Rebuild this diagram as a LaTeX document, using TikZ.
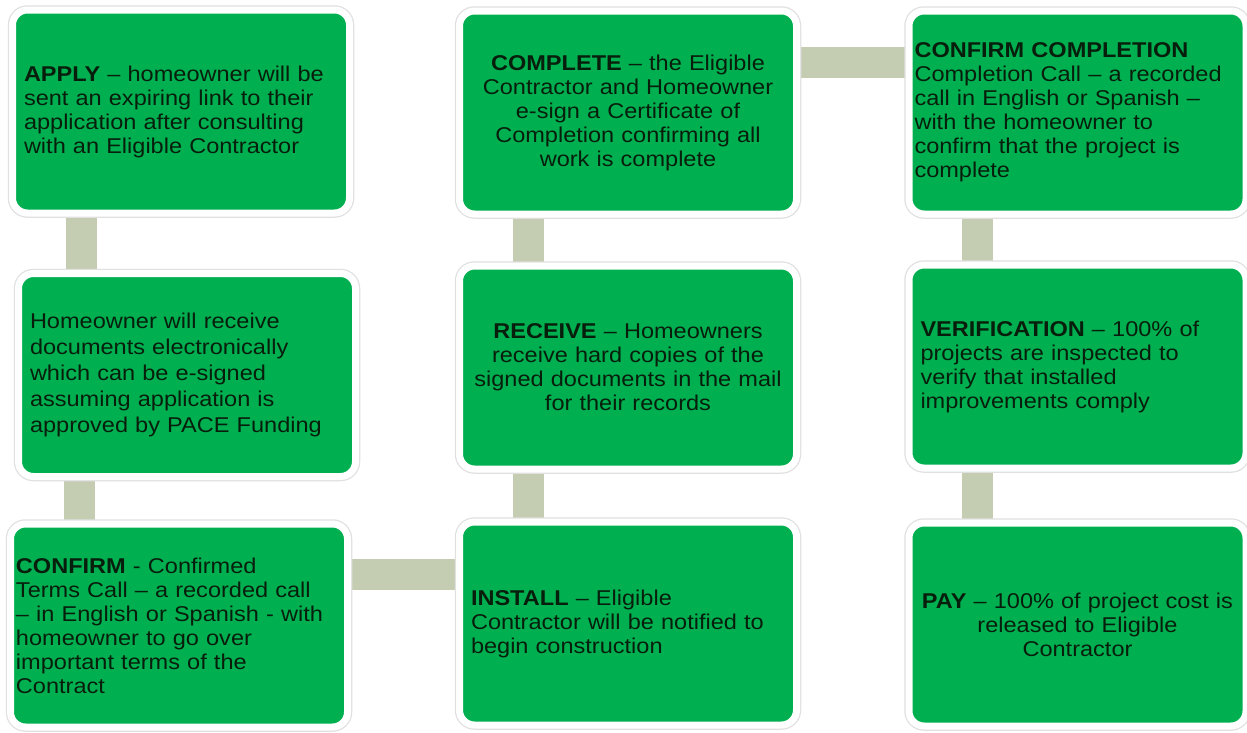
\documentclass[tikz,border=0pt]{standalone}
\usepackage{fontspec}
\setmainfont{Liberation Sans}[FakeStretch=1.1]
\usetikzlibrary{backgrounds}
\definecolor{boxgreen}{RGB}{0,176,80}
\definecolor{linkgray}{RGB}{196,205,178}
\definecolor{inkgreen}{RGB}{8,30,12}

\begin{document}
\begin{tikzpicture}[x=1pt,y=-1pt,
  box/.style={rectangle,rounded corners=15pt,fill=boxgreen,draw=white,line width=7pt,
    preaction={draw=black!12,line width=9.5pt},
    minimum width=337pt,minimum height=203pt,inner xsep=11.5pt,text width=314pt,
    align=left,text=inkgreen,font=\fontsize{21.4}{24}\selectfont},
  tight/.style={inner xsep=5.5pt,text width=326pt},
  link/.style={draw=linkgray,line width=31pt}]
\useasboundingbox (0,0) rectangle (1247,732);

\node[box] (apply) at (181,111.5) {\textbf{APPLY} – homeowner will be\\ sent an expiring link to their\\ application after consulting\\ with an Eligible Contractor};
\node[box,font=\fontsize{21.4}{26}\selectfont] (docs) at (187,375) {Homeowner will receive\\ documents electronically\\ which can be e-signed\\ assuming application is\\ approved by PACE Funding};
\node[box,tight] (confirm) at (179,625.5) {\textbf{CONFIRM} - Confirmed\\ Terms Call – a recorded call\\ – in English or Spanish - with\\ homeowner to go over\\ important terms of the\\ Contract};

\node[box,tight,align=center] (complete) at (628,112.5) {\textbf{COMPLETE} – the Eligible\\ Contractor and Homeowner\\ e-sign a Certificate of\\ Completion confirming all\\ work is complete};
\node[box,tight,align=center] (receive) at (628,367.5) {\textbf{RECEIVE} – Homeowners\\ receive hard copies of the\\ signed documents in the mail\\ for their records};
\node[box] (install) at (628,623.5) {\textbf{INSTALL} – Eligible\\ Contractor will be notified to\\ begin construction};

\node[box,tight] (confirmdone) at (1077.5,112.5) {\textbf{CONFIRM COMPLETION}\\ Completion Call – a recorded\\ call in English or Spanish –\\ with the homeowner to\\ confirm that the project is\\ complete};
\node[box] (verify) at (1077.5,366.5) {\textbf{VERIFICATION} – 100\% of\\ projects are inspected to\\ verify that installed\\ improvements comply};
\node[box,tight,align=center] (pay) at (1077.5,624.5) {\textbf{PAY} – 100\% of project cost is\\ released to Eligible\\ Contractor};

\begin{scope}[on background layer]
\fill[white] (0,0) rectangle (1247,732);
\draw[link] ([xshift=-100pt]apply.south) -- ([xshift=-100pt]apply.south |- docs.north);
\draw[link] ([xshift=-100pt]confirm.north) -- ([xshift=-100pt]confirm.north |- docs.south);
\draw[link] ([yshift=51pt]confirm.east) -- ([yshift=51pt]confirm.east -| install.west);
\draw[link] ([xshift=-100pt]install.north) -- ([xshift=-100pt]install.north |- receive.south);
\draw[link] ([xshift=-100pt]receive.north) -- ([xshift=-100pt]receive.north |- complete.south);
\draw[link] ([yshift=50pt]complete.east) -- ([yshift=50pt]complete.east -| confirmdone.west);
\draw[link] ([xshift=-100pt]confirmdone.south) -- ([xshift=-100pt]confirmdone.south |- verify.north);
\draw[link] ([xshift=-100pt]pay.north) -- ([xshift=-100pt]pay.north |- verify.south);
\end{scope}
\end{tikzpicture}
\end{document}
